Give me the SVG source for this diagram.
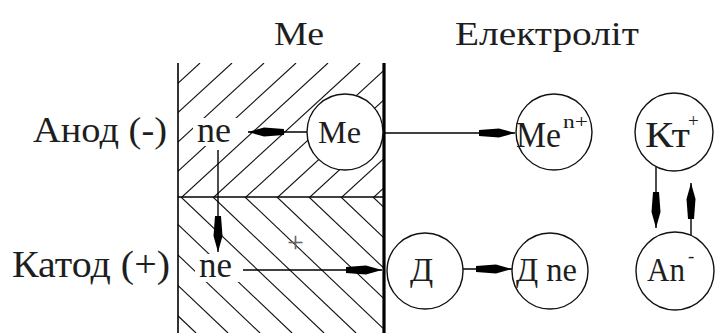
<svg xmlns="http://www.w3.org/2000/svg" width="721" height="333" viewBox="0 0 721 333">
<style>
text{font-family:"Liberation Serif","Times New Roman",serif;fill:#1e1e1e}
.sup{font-size:19px}
.hatch{stroke:#111;stroke-width:1.1}
.wall{stroke:#000;fill:none}
.node{fill:#fff;stroke:#111;stroke-width:1.4}
.conn{stroke:#000;stroke-width:1.4;fill:none;marker-end:url(#arr)}
.bg{fill:#fff}
</style>
<defs>
<marker id="arr" markerUnits="userSpaceOnUse" markerWidth="40" markerHeight="12" viewBox="0 -6 40 12" refX="36" refY="0" orient="auto">
<path d="M0,-3 L20,-4.5 L36,0 L20,4.5 L0,3 Z" fill="#000"/>
</marker>
<clipPath id="top"><rect x="178" y="63" width="206" height="134"/></clipPath>
<clipPath id="bot"><rect x="178" y="197" width="206" height="136"/></clipPath>
</defs>
<rect width="721" height="333" fill="#fff"/>
<g id="metal">
<g clip-path="url(#top)" class="hatch">
<line x1="200" y1="63" x2="54" y2="197"/><line x1="232" y1="63" x2="86" y2="197"/><line x1="264" y1="63" x2="118" y2="197"/><line x1="296" y1="63" x2="150" y2="197"/><line x1="328" y1="63" x2="182" y2="197"/><line x1="360" y1="63" x2="214" y2="197"/><line x1="392" y1="63" x2="246" y2="197"/><line x1="424" y1="63" x2="278" y2="197"/><line x1="456" y1="63" x2="310" y2="197"/><line x1="488" y1="63" x2="342" y2="197"/><line x1="520" y1="63" x2="374" y2="197"/>
</g>
<g clip-path="url(#bot)" class="hatch">
<line x1="21" y1="197" x2="164" y2="333"/><line x1="53" y1="197" x2="196" y2="333"/><line x1="85" y1="197" x2="228" y2="333"/><line x1="117" y1="197" x2="260" y2="333"/><line x1="149" y1="197" x2="292" y2="333"/><line x1="181" y1="197" x2="324" y2="333"/><line x1="213" y1="197" x2="356" y2="333"/><line x1="245" y1="197" x2="388" y2="333"/><line x1="277" y1="197" x2="420" y2="333"/><line x1="309" y1="197" x2="452" y2="333"/><line x1="341" y1="197" x2="484" y2="333"/><line x1="373" y1="197" x2="516" y2="333"/>
</g>
<line class="wall" x1="178" y1="63" x2="178" y2="333" stroke-width="1.6"/>
<line class="wall" x1="384" y1="63" x2="384" y2="333" stroke-width="3.2"/>
<line class="wall" x1="178" y1="197" x2="384" y2="197" stroke-width="1.6"/>
<text x="287" y="252" font-size="30" style="fill:#666">+</text>
</g>
<g id="headers">
<text x="274" y="45" font-size="33" textLength="50" lengthAdjust="spacingAndGlyphs">Ме</text>
<text x="455" y="45" font-size="34" textLength="184" lengthAdjust="spacingAndGlyphs">Електроліт</text>
</g>
<g id="anode"><text x="33" y="142" font-size="35" textLength="134" lengthAdjust="spacingAndGlyphs">Анод (-)</text></g>
<g id="cathode"><text x="12" y="277" font-size="37" textLength="158" lengthAdjust="spacingAndGlyphs">Катод (+)</text></g>
<g id="ne-top"><rect class="bg" x="193" y="118" width="44" height="28"/><text x="197" y="142" font-size="36" textLength="34" lengthAdjust="spacingAndGlyphs">ne</text></g>
<g id="ne-bottom"><rect class="bg" x="195" y="254" width="44" height="28"/><text x="199" y="277" font-size="36" textLength="33" lengthAdjust="spacingAndGlyphs">ne</text></g>
<g id="connectors">
<line class="conn" x1="307" y1="132" x2="248" y2="132"/>
<line class="conn" x1="384" y1="133" x2="515" y2="133"/>
<line class="conn" x1="218" y1="150" x2="218" y2="252"/>
<line class="conn" x1="243" y1="270" x2="382" y2="270"/>
<line class="conn" x1="463" y1="269" x2="512" y2="269"/>
<line class="conn" x1="656" y1="167" x2="656" y2="228"/>
<line class="conn" x1="691" y1="236" x2="691" y2="183"/>
</g>
<g id="me"><circle class="node" cx="345" cy="132" r="38"/><text x="318" y="143" font-size="31" textLength="43" lengthAdjust="spacingAndGlyphs">Me</text></g>
<g id="me-ion"><circle class="node" cx="554" cy="132" r="38"/><text x="516" y="147" font-size="35" textLength="45" lengthAdjust="spacingAndGlyphs">Me</text><text class="sup" x="563" y="128" textLength="25" lengthAdjust="spacingAndGlyphs">n+</text></g>
<g id="kt"><circle class="node" cx="674" cy="132" r="39"/><text x="645" y="147" font-size="35" textLength="45" lengthAdjust="spacingAndGlyphs">Кт</text><text class="sup" x="688" y="127">+</text></g>
<g id="d"><circle class="node" cx="425" cy="271" r="38"/><text x="410" y="281" font-size="34">Д</text></g>
<g id="dne"><circle class="node" cx="550" cy="271" r="38"/><text x="516" y="281" font-size="34" textLength="61" lengthAdjust="spacingAndGlyphs">Д ne</text></g>
<g id="an"><circle class="node" cx="675" cy="271" r="39"/><text x="647" y="281" font-size="34" textLength="38" lengthAdjust="spacingAndGlyphs">An</text><text class="sup" x="688" y="262">-</text></g>
</svg>
